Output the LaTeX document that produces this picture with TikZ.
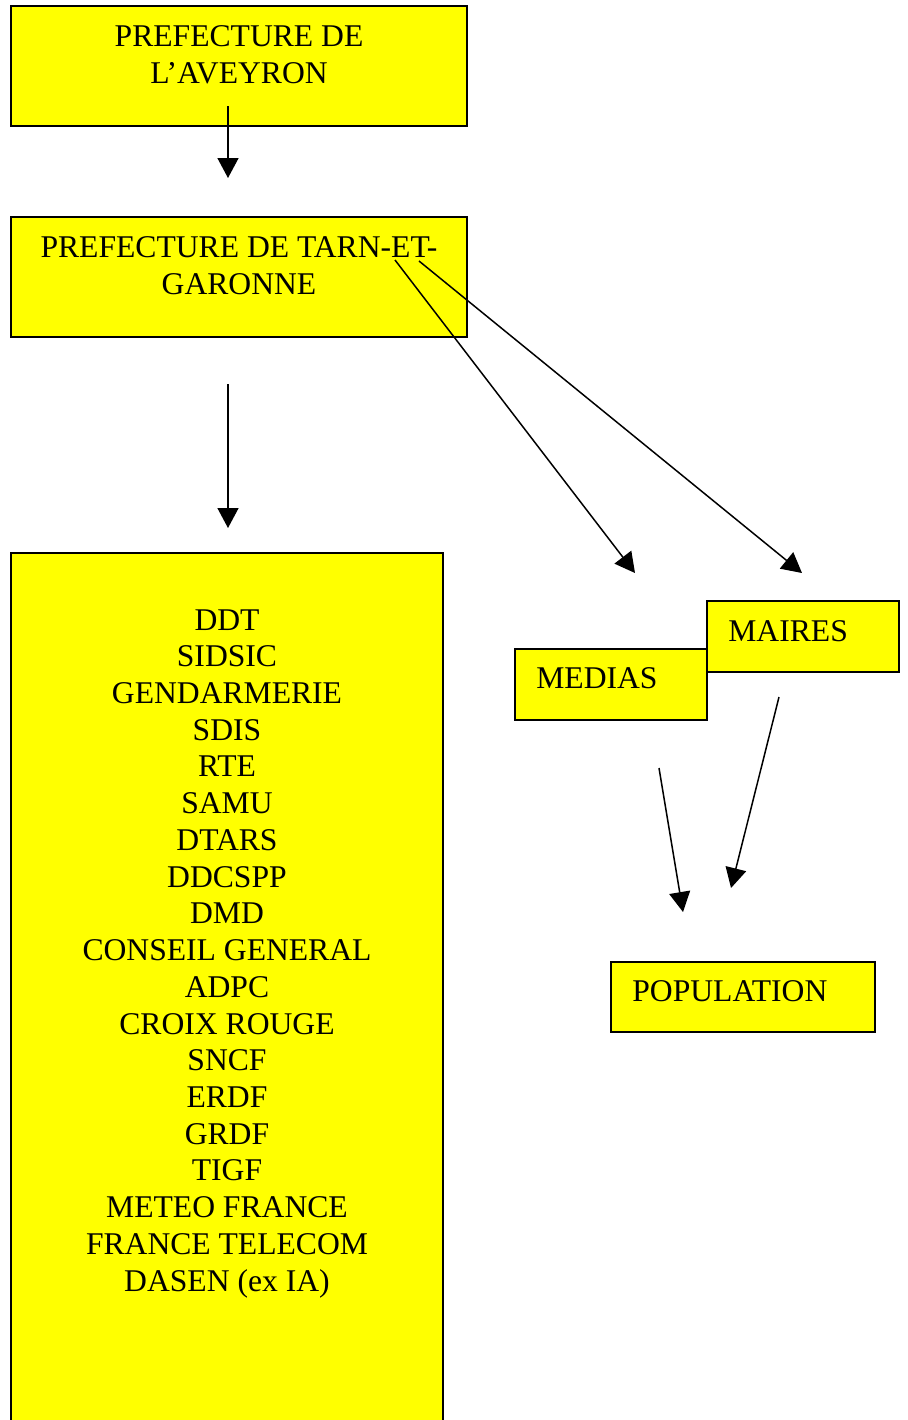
\documentclass[tikz,border=0pt]{standalone}
\usepackage{fontspec}
\setmainfont{Liberation Serif}
\usetikzlibrary{arrows.meta,positioning}
\definecolor{boxyellow}{RGB}{255,255,0}

\begin{document}
\begin{tikzpicture}[x=0.02cm, y=-0.02cm,
  box/.style={draw, line width=1.1pt, fill=boxyellow, inner sep=0pt},
  lbl/.style={inner sep=0pt, font=\fontsize{18}{21}\selectfont},
  flow/.style={line width=0.85pt, -{Triangle[length=0.4cm, width=0.42cm]}}]
  \useasboundingbox (0,0) rectangle (907,1420);
  % boxes
  \node[box, minimum width=9.12cm, minimum height=2.4cm] (avey) at (239,66) {};
  \node[box, minimum width=9.12cm, minimum height=2.4cm] (tarn) at (239,277) {};
  \node[box, minimum width=8.64cm, minimum height=17.8cm] (serv) at (227,998) {};
  \node[box, minimum width=3.84cm, minimum height=1.42cm] (medias) at (611,684.5) {};
  \node[box, minimum width=3.84cm, minimum height=1.42cm] (maires) at (803,636.5) {};
  \node[box, minimum width=5.28cm, minimum height=1.4cm] (popu) at (743,997) {};
  % texts (base = last line)
  \node[lbl, align=center, anchor=base] (aveyT) at (239,83) {PREFECTURE DE\\L’AVEYRON};
  \node[lbl, align=center, anchor=base] (tarnT) at (239,294) {PREFECTURE DE TARN-ET-\\GARONNE};
  \node[lbl, align=center, anchor=north, font=\fontsize{18}{20.9}\selectfont] (servT) at (227,609)
    {DDT\\SIDSIC\\GENDARMERIE\\SDIS\\RTE\\SAMU\\DTARS\\DDCSPP\\DMD\\CONSEIL GENERAL\\ADPC\\
     CROIX ROUGE\\SNCF\\ERDF\\GRDF\\TIGF\\METEO FRANCE\\FRANCE TELECOM\\DASEN (ex IA)};
  \node[lbl, anchor=base west] (mediasT) at (536,688) {MEDIAS};
  \node[lbl, anchor=base west] (mairesT) at (728,641) {MAIRES};
  \node[lbl, anchor=base west] (popuT) at (632,1001) {POPULATION};
  % arrow ends
  \coordinate (a1s) at (228,106);  \coordinate (a1e) at (228,178);
  \coordinate (a2s) at (228,384);  \coordinate (a2e) at (228,528);
  \coordinate (a3s) at (395,260);  \coordinate (a3e) at (635,573);
  \coordinate (a4s) at (419,261);  \coordinate (a4e) at (802,573);
  \coordinate (a5s) at (659,768);  \coordinate (a5e) at (683,912);
  \coordinate (a6s) at (779,697);  \coordinate (a6e) at (731,888);
  % arrows
  \draw[flow] (a1s) -- (a1e);
  \draw[flow] (a2s) -- (a2e);
  \draw[flow] (a3s) -- (a3e);
  \draw[flow] (a4s) -- (a4e);
  \draw[flow] (a5s) -- (a5e);
  \draw[flow] (a6s) -- (a6e);
\end{tikzpicture}
\end{document}
